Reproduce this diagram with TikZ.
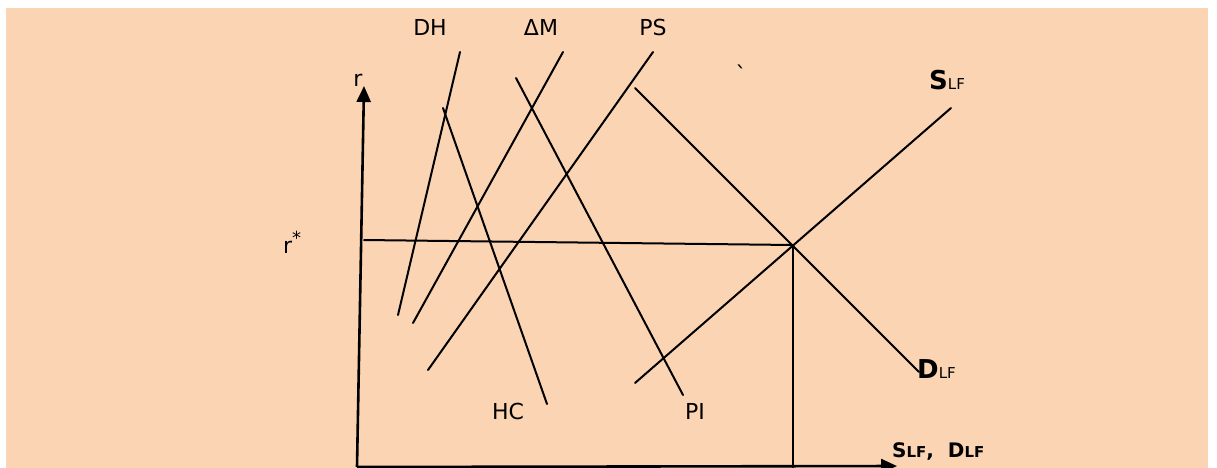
\documentclass[tikz,border=0pt]{standalone}
\usepackage{fontspec}
\setmainfont{DejaVu Sans}
\usetikzlibrary{arrows.meta}
\definecolor{peach}{RGB}{251,212,180}
\begin{document}
\begin{tikzpicture}[x=1pt,y=-1pt,
  curve/.style={line width=2pt,line cap=round},
  axis/.style={line width=2.6pt,-{Triangle[length=16pt,width=14pt]}},
  lbl/.style={inner sep=0pt,font=\fontsize{22}{22}\selectfont},
  big/.style={inner sep=0pt,font=\fontsize{26}{26}\selectfont\bfseries}]
\useasboundingbox (0,0) rectangle (1217,467);
\fill[white] (0,0) rectangle (1217,467);
\fill[peach] (6,8) rectangle (1208,470);
% coordinates
\coordinate (o) at (357,467);
\coordinate (ytop) at (364,86);
\coordinate (xend) at (897,466);
\coordinate (dht) at (460,52);   \coordinate (dhb) at (398,315);
\coordinate (dmt) at (563,52);   \coordinate (dmb) at (413,323);
\coordinate (pst) at (653,52);   \coordinate (psb) at (428,370);
\coordinate (hct) at (443,108);  \coordinate (hcb) at (547,404);
\coordinate (pit) at (516,78);   \coordinate (pib) at (683,395);
\coordinate (dlt) at (635,88);   \coordinate (dlb) at (919,372);
\coordinate (slb) at (635,383);  \coordinate (slt) at (951,108);
\coordinate (rs) at (364,240);
\coordinate (eq) at (793,245);
\coordinate (eqb) at (793,467);
% axes
\draw[axis] (o) -- (ytop);
\draw[axis] (o) -- (xend);
% curves
\draw[curve] (dht) -- (dhb);
\draw[curve] (dmt) -- (dmb);
\draw[curve] (pst) -- (psb);
\draw[curve] (hct) -- (hcb);
\draw[curve] (pit) -- (pib);
\draw[curve] (dlt) -- (dlb);
\draw[curve] (slb) -- (slt);
\draw[curve] (rs) -- (eq);
\draw[curve] (eq) -- (eqb);
% labels
\node[lbl] (lr) at (358,80) {r};
\node[lbl,anchor=west] (lrs) at (283,242) {r\raisebox{9pt}{\fontsize{18}{18}\selectfont *}};
\node[lbl] (ldh) at (430,27) {DH};
\node[lbl] (ldm) at (541,27) {ΔM};
\node[lbl] (lps) at (653,27) {PS};
\node[lbl] (lhc) at (508,411) {HC};
\node[lbl] (lpi) at (695,411) {PI};
\node[lbl] (ltick) at (741,74) {\textasciigrave};
\node[big,anchor=west] (lsl) at (929,80) {S{\fontsize{15}{15}\selectfont\mdseries LF}};
\node[big,anchor=west] (ldl) at (917,369) {D{\fontsize{15}{15}\selectfont\mdseries LF}};
\node[anchor=west,inner sep=0pt,font=\fontsize{20}{20}\selectfont\bfseries] (lax) at (892,451) {S{\fontsize{15}{15}\selectfont LF},\ \ D{\fontsize{15}{15}\selectfont LF}};
\end{tikzpicture}
\end{document}
